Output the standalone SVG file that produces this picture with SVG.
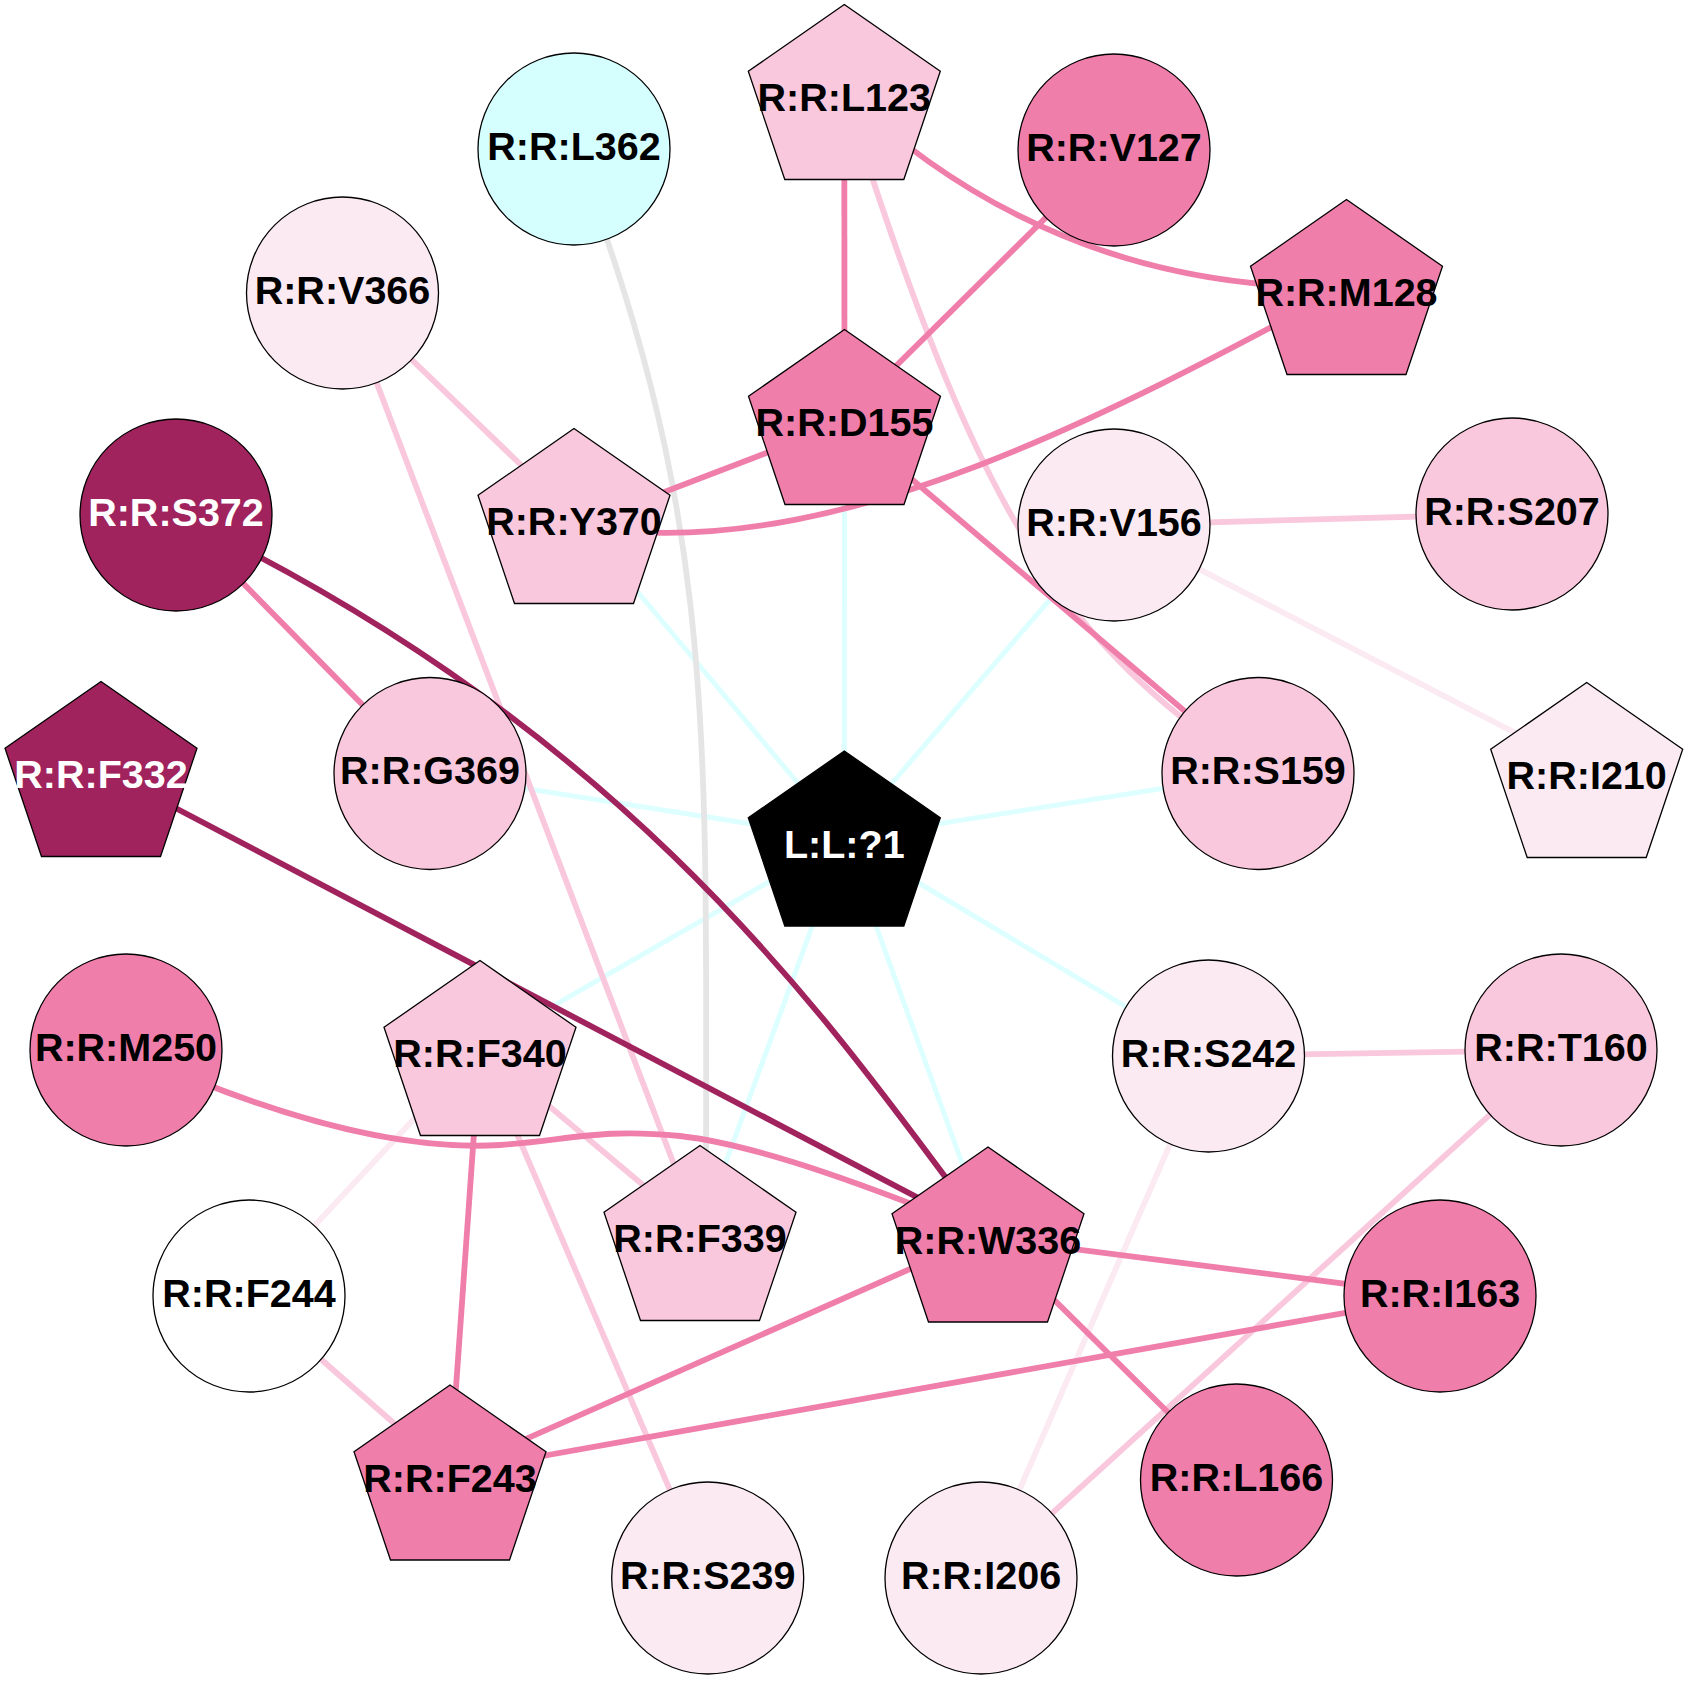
<svg xmlns="http://www.w3.org/2000/svg" xmlns:xlink="http://www.w3.org/1999/xlink" width="1689" height="1683" viewBox="0 0 1689 1683">
<style>
.e{fill:none;stroke-width:5.8}
.em{stroke:#F07EAA}.el{stroke:#F9C8DC}.ev{stroke:#FBEAF2}.ed{stroke:#A1235E}.ec{stroke:#DDFFFF;stroke-width:5}.eg{stroke:#E5E5E5}
.n{stroke:#000;stroke-width:1.3}
.fm{fill:#F07EAA}.fl{fill:#F9C8DC}.fv{fill:#FBEAF2}.fd{fill:#A1235E}.fc{fill:#D5FFFF}.fw{fill:#FFFFFF}.fk{fill:#000000}
text{font-family:"Liberation Sans",Arial,sans-serif;font-weight:bold;font-size:39.5px;text-anchor:middle;fill:#000}
text.w{fill:#FFFFFF}
</style>
<defs>
<polygon id="pent" points="0,-87.5 96,-20.7 59.5,87.5 -59.5,87.5 -96,-20.7"/>
</defs>
<rect width="1689" height="1683" fill="#FFFFFF"/>
<g id="edges">
<path class="e ec" d="M844.5,417 L844.3,838.5"/>
<path class="e ec" d="M574,516 L844.3,838.5"/>
<path class="e ec" d="M1114,525 L844.3,838.5"/>
<path class="e ec" d="M430,773.5 L844.3,838.5"/>
<path class="e ec" d="M1258,773.5 L844.3,838.5"/>
<path class="e ec" d="M1208.5,1056 L844.3,838.5"/>
<path class="e ec" d="M480,1048 L844.3,838.5"/>
<path class="e ec" d="M700,1233 L844.3,838.5"/>
<path class="e ec" d="M988,1234.5 L844.3,838.5"/>
<path class="e eg" d="M574,149 C718,521 706,734 706,1200"/>
<path class="e el" d="M844.3,92 C980,520 1060,640 1258,773.5"/>
<path class="e el" d="M342.5,293 L574,516"/>
<path class="e el" d="M342.5,293 L700,1233"/>
<path class="e el" d="M1114,525 L1512,514"/>
<path class="e ev" d="M1114,525 L1586.7,770"/>
<path class="e el" d="M480,1048 L700,1233"/>
<path class="e ev" d="M480,1048 L249,1296"/>
<path class="e el" d="M480,1048 L707.7,1578"/>
<path class="e el" d="M1208.5,1056 L1561,1050"/>
<path class="e ev" d="M1208.5,1056 L981,1578"/>
<path class="e el" d="M1561,1050 L981,1578"/>
<path class="e el" d="M249,1296 L450,1472.5"/>
<path class="e em" d="M844.3,92 L844.5,417"/>
<path class="e em" d="M844.3,92 Q1055,292 1346.5,287"/>
<path class="e em" d="M1114,150 L844.5,417"/>
<path class="e em" d="M1346.5,287 C1100,420 850,550 620,531"/>
<path class="e em" d="M844.5,423 L574,526.6"/>
<path class="e em" d="M844.5,422 L1258,773.5"/>
<path class="e em" d="M176,515 L430,773.5"/>
<path class="e em" d="M126,1050 C300,1130 420,1150 500,1145 C570,1140 600,1128 680,1136 C760,1145 880,1190 988,1234.5"/>
<path class="e em" d="M480,1048 L450,1472.5"/>
<path class="e em" d="M988,1238 L1440,1296"/>
<path class="e em" d="M988,1234.5 L1236.5,1480"/>
<path class="e em" d="M988,1234.5 L450,1472.5"/>
<path class="e em" d="M1440,1296 L450,1472.5"/>
<path class="e ed" d="M176,515 C640,735 838,1034 988,1234.5"/>
<path class="e ed" d="M101,769 L988,1234.5"/>
</g>
<g id="node-L123"><use xlink:href="#pent" x="844.3" y="92" class="n fl"/><text x="844.3" y="111">R:R:L123</text></g>
<g id="node-L362"><circle cx="574" cy="149" r="96" class="n fc"/><text x="574" y="159.5">R:R:L362</text></g>
<g id="node-V127"><circle cx="1114" cy="150" r="96" class="n fm"/><text x="1114" y="160.5">R:R:V127</text></g>
<g id="node-V366"><circle cx="342.5" cy="293" r="96" class="n fv"/><text x="342.5" y="303.5">R:R:V366</text></g>
<g id="node-M128"><use xlink:href="#pent" x="1346.5" y="287" class="n fm"/><text x="1346.5" y="306">R:R:M128</text></g>
<g id="node-D155"><use xlink:href="#pent" x="844.5" y="417" class="n fm"/><text x="844.5" y="436">R:R:D155</text></g>
<g id="node-S372"><circle cx="176" cy="515" r="96" class="n fd"/><text class="w" x="176" y="525.5">R:R:S372</text></g>
<g id="node-Y370"><use xlink:href="#pent" x="574" y="516" class="n fl"/><text x="574" y="535">R:R:Y370</text></g>
<g id="node-V156"><circle cx="1114" cy="525" r="96" class="n fv"/><text x="1114" y="535.5">R:R:V156</text></g>
<g id="node-S207"><circle cx="1512" cy="514" r="96" class="n fl"/><text x="1512" y="524.5">R:R:S207</text></g>
<g id="node-F332"><use xlink:href="#pent" x="101" y="769" class="n fd"/><text class="w" x="101" y="788">R:R:F332</text></g>
<g id="node-G369"><circle cx="430" cy="773.5" r="96" class="n fl"/><text x="430" y="784">R:R:G369</text></g>
<g id="node-L1"><use xlink:href="#pent" x="844.3" y="838.5" class="n fk"/><text class="w" x="844.3" y="857.5">L:L:?1</text></g>
<g id="node-S159"><circle cx="1258" cy="773.5" r="96" class="n fl"/><text x="1258" y="784">R:R:S159</text></g>
<g id="node-I210"><use xlink:href="#pent" x="1586.7" y="770" class="n fv"/><text x="1586.7" y="789">R:R:I210</text></g>
<g id="node-M250"><circle cx="126" cy="1050" r="96" class="n fm"/><text x="126" y="1060.5">R:R:M250</text></g>
<g id="node-F340"><use xlink:href="#pent" x="480" y="1048" class="n fl"/><text x="480" y="1067">R:R:F340</text></g>
<g id="node-S242"><circle cx="1208.5" cy="1056" r="96" class="n fv"/><text x="1208.5" y="1066.5">R:R:S242</text></g>
<g id="node-T160"><circle cx="1561" cy="1050" r="96" class="n fl"/><text x="1561" y="1060.5">R:R:T160</text></g>
<g id="node-F339"><use xlink:href="#pent" x="700" y="1233" class="n fl"/><text x="700" y="1252">R:R:F339</text></g>
<g id="node-W336"><use xlink:href="#pent" x="988" y="1234.5" class="n fm"/><text x="988" y="1253.5">R:R:W336</text></g>
<g id="node-F244"><circle cx="249" cy="1296" r="96" class="n fw"/><text x="249" y="1306.5">R:R:F244</text></g>
<g id="node-I163"><circle cx="1440" cy="1296" r="96" class="n fm"/><text x="1440" y="1306.5">R:R:I163</text></g>
<g id="node-F243"><use xlink:href="#pent" x="450" y="1472.5" class="n fm"/><text x="450" y="1491.5">R:R:F243</text></g>
<g id="node-L166"><circle cx="1236.5" cy="1480" r="96" class="n fm"/><text x="1236.5" y="1490.5">R:R:L166</text></g>
<g id="node-S239"><circle cx="707.7" cy="1578" r="96" class="n fv"/><text x="707.7" y="1588.5">R:R:S239</text></g>
<g id="node-I206"><circle cx="981" cy="1578" r="96" class="n fv"/><text x="981" y="1588.5">R:R:I206</text></g>
</svg>
